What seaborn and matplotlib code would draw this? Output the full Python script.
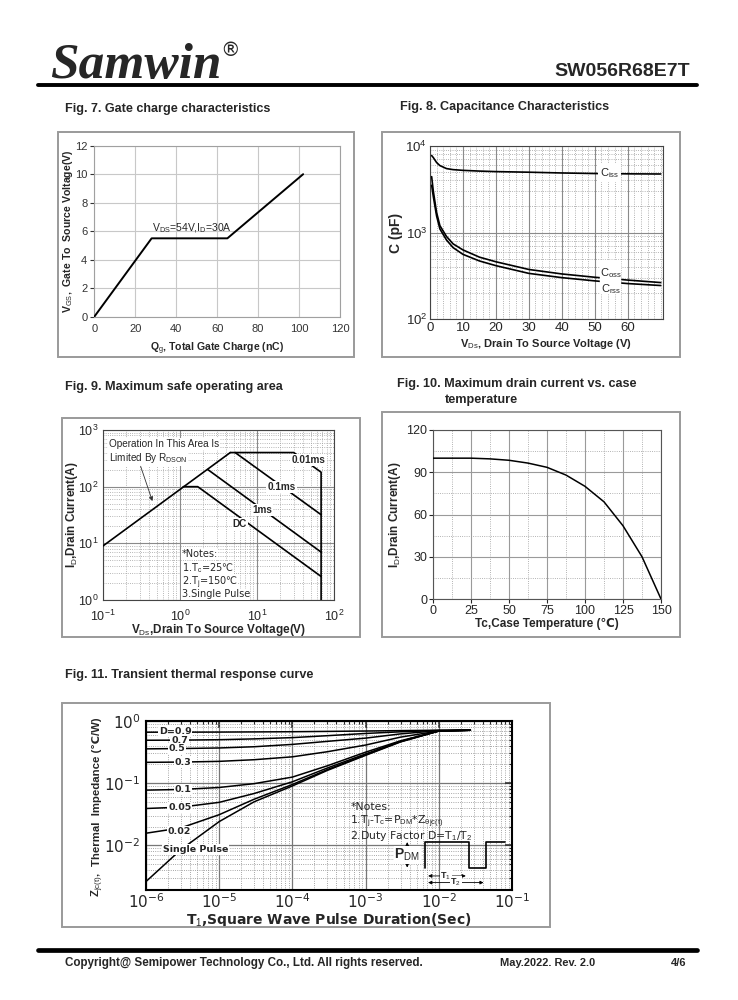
import numpy as np
import pandas as pd
import matplotlib
matplotlib.use("Agg")
import matplotlib.pyplot as plt
import seaborn as sns
from matplotlib.ticker import MultipleLocator, LogLocator, NullFormatter, FixedLocator
from matplotlib.patches import Rectangle
from matplotlib.lines import Line2D

# ---------------- data ----------------
# Fig 7 gate charge
qg_nc = [0, 28, 65, 102]
vgs_v = [0, 5.5, 5.5, 10]

# Fig 8 capacitance
vds_cap = [0.5, 1, 2, 3, 5, 7, 10, 15, 20, 30, 40, 50, 60, 70]
ciss_pf = [7700, 7300, 6400, 5900, 5450, 5300, 5200, 5100, 5030, 4950, 4850, 4780, 4740, 4720]
coss_pf = [4400, 3000, 1700, 1200, 900, 740, 630, 520, 460, 375, 333, 305, 283, 265]
crss_pf = [3500, 2600, 1550, 1100, 820, 670, 560, 470, 415, 338, 302, 277, 258, 245]

# Fig 9 safe operating area
rds_v = [0.1, 4.5]
rds_i = [9, 400]
t001_v = [4.5, 30, 68, 68]
t001_i = [400, 400, 180, 1]
t01_v = [5.2, 68]
t01_i = [400, 32]
t1_v = [2.3, 68]
t1_i = [200, 7]
dc_v = [1.1, 1.7, 68]
dc_i = [100, 100, 2.6]

# Fig 10 drain current vs case temperature
tc_c = [0, 12.5, 25, 37.5, 50, 62.5, 75, 87.5, 100, 112.5, 125, 137.5, 150]
id_a = [100, 100, 100, 99.5, 98.5, 96.5, 93.5, 88, 80, 69, 52, 30, 0]

# Fig 11 transient thermal response
t_sec = [1e-6, 3e-6, 1e-5, 3e-5, 1e-4, 3e-4, 1e-3, 3e-3, 1e-2, 2.7e-2]
z_single = [0.0026, 0.0085, 0.024, 0.05, 0.09, 0.16, 0.28, 0.46, 0.69, 0.71]
z_d002 = [0.0156, 0.019, 0.031, 0.055, 0.095, 0.165, 0.285, 0.465, 0.69, 0.71]
z_d005 = [0.039, 0.041, 0.049, 0.068, 0.105, 0.175, 0.295, 0.47, 0.69, 0.71]
z_d01 = [0.077, 0.079, 0.085, 0.098, 0.125, 0.19, 0.315, 0.48, 0.69, 0.71]
z_d03 = [0.216, 0.218, 0.224, 0.238, 0.265, 0.32, 0.41, 0.55, 0.69, 0.71]
z_d05 = [0.356, 0.36, 0.368, 0.385, 0.42, 0.47, 0.53, 0.62, 0.70, 0.71]
z_d07 = [0.49, 0.492, 0.50, 0.515, 0.54, 0.58, 0.63, 0.67, 0.705, 0.71]
z_d09 = [0.66, 0.661, 0.663, 0.667, 0.672, 0.68, 0.69, 0.70, 0.71, 0.71]
duty_labels = ["D=0.9", "0.7", "0.5", "0.3", "0.1", "0.05", "0.02"]
duty_label_t = [2.5e-6, 2.9e-6, 2.65e-6, 3.2e-6, 3.2e-6, 2.9e-6, 2.85e-6]
duty_label_z = [0.69, 0.49, 0.357, 0.217, 0.078, 0.040, 0.0165]
pulse_t = [6.55e-3, 6.55e-3, 0.0255, 0.0255, 0.0446, 0.0446, 0.081]
pulse_z = [0.00437, 0.0112, 0.0112, 0.00437, 0.00437, 0.0112, 0.0112]

# ---------------- style ----------------
sns.set_style("white")
plt.rcParams["font.family"] = ["Liberation Sans", "DejaVu Sans"]
plt.rcParams["mathtext.fontset"] = "custom"
plt.rcParams["mathtext.rm"] = "Liberation Sans"
plt.rcParams["mathtext.bf"] = "Liberation Sans:bold"
plt.rcParams["mathtext.it"] = "Liberation Sans:italic"

W, H = 738, 1000
fig = plt.figure(figsize=(7.38, 10), dpi=100)
fig.patch.set_facecolor("white")


def ax_px(l, t, r, b):
    return fig.add_axes([l / W, 1 - b / H, (r - l) / W, (b - t) / H])


def frame_px(l, t, r, b):
    fig.add_artist(Rectangle((l / W, 1 - b / H), (r - l) / W, (b - t) / H,
                             transform=fig.transFigure, fill=False,
                             edgecolor="#9a9a9a", lw=1.4))


def hline_px(y, x0, x1, lw):
    fig.add_artist(Line2D([x0 / W, x1 / W], [1 - y / H, 1 - y / H],
                          transform=fig.transFigure, color="black", lw=lw))


def ftext(x, y, s, **kw):
    fig.text(x / W, 1 - y / H, s, **kw)


def line(ax, x, y, lw=1.2, color="black", z=4):
    sns.lineplot(x=x, y=y, ax=ax, color=color, lw=lw, sort=False,
                 estimator=None, legend=False, zorder=z)


def place_labels(ax, ylab_right_px, xlab_top_px, l, t, r, b):
    if ylab_right_px is not None:
        ax.yaxis.set_label_coords((ylab_right_px - l) / (r - l), 0.5)
    ax.xaxis.set_label_coords(0.5, -(xlab_top_px - b) / (b - t))


# ---------------- header / footer ----------------
ftext(50, 78, "Samwin", family="Liberation Serif", weight="bold", style="italic",
      size=37, va="baseline")
ftext(220, 56, "®", family="DejaVu Sans", size=14, va="baseline")
ftext(690, 76, "SW056R68E7T", weight="bold", size=14, ha="right", va="baseline")
hline_px(85, 38, 697, 2.8)
hline_px(950, 38, 697, 3.4)
ftext(65, 966, "Copyright@ Semipower Technology Co., Ltd. All rights reserved.",
      weight="bold", size=8.4, va="baseline")
ftext(500, 966, "May.2022. Rev. 2.0", weight="bold", size=7.9, va="baseline")
ftext(686, 966, "4/6", weight="bold", size=8, va="baseline", ha="right")

# ---------------- titles ----------------
tk = dict(weight="bold", size=9.1, va="baseline")
ftext(65, 112, "Fig. 7. Gate charge characteristics", **tk)
ftext(400, 110, "Fig. 8. Capacitance Characteristics", **tk)
ftext(65, 390, "Fig. 9. Maximum safe operating area", **tk)
ftext(397, 387, "Fig. 10. Maximum drain current vs. case", **tk)
ftext(445, 403, "temperature", **tk)
ftext(65, 678, "Fig. 11. Transient thermal response curve", **tk)

frame_px(58, 132, 354, 357)
frame_px(382, 132, 680, 357)
frame_px(62, 418, 360, 637)
frame_px(382, 412, 680, 637)
frame_px(62, 703, 550, 927)

# ---------------- Fig 7 ----------------
b7 = (94.3, 145.7, 340, 316.7)
ax7 = ax_px(*b7)
line(ax7, qg_nc, vgs_v, lw=1.4)
ax7.set_xlim(0, 120)
ax7.set_ylim(0, 12)
ax7.xaxis.set_major_locator(MultipleLocator(20))
ax7.yaxis.set_major_locator(MultipleLocator(2))
ax7.grid(True, color="#c8c8c8", lw=0.8)
for s in ax7.spines.values():
    s.set_color("#a0a0a0")
ax7.tick_params(labelsize=8, colors="#333333", length=3, left=True, bottom=False, pad=2)
ax7.set_ylabel(r"V$_{\mathrm{GS}}$,  Gate To  Source Voltage(V)", fontsize=7.6, weight="bold")
ax7.set_xlabel(r"Q$_{\mathrm{g}}$, Total Gate Charge (nC)", fontsize=7.6, weight="bold")
place_labels(ax7, 75, 341, *b7)
ax7.text(28, 6.2, r"V$_{\mathrm{DS}}$=54V,I$_{\mathrm{D}}$=30A", fontsize=7.5,
         va="center", ha="left")

# ---------------- Fig 8 ----------------
b8 = (430, 145.7, 662.7, 319.3)
ax8 = ax_px(*b8)
line(ax8, vds_cap, ciss_pf)
line(ax8, vds_cap, coss_pf)
line(ax8, vds_cap, crss_pf)
ax8.set_yscale("log")
ax8.set_xlim(0, 70.6)
ax8.set_ylim(100, 10000)
ax8.xaxis.set_major_locator(FixedLocator([0, 10, 20, 30, 40, 50, 60]))
ax8.xaxis.set_minor_locator(MultipleLocator(2))
ax8.yaxis.set_major_locator(LogLocator(base=10, numticks=10))
ax8.yaxis.set_minor_locator(LogLocator(base=10, subs=np.arange(2, 10), numticks=20))
ax8.yaxis.set_minor_formatter(NullFormatter())
ax8.grid(True, which="major", color="#8a8a8a", lw=0.8)
ax8.grid(True, which="minor", color="#9a9a9a", lw=0.6, ls=":")
for s in ax8.spines.values():
    s.set_color("#444444")
ax8.tick_params(which="both", labelsize=9.5, length=2, direction="in", pad=2)
ax8.axvspan(51.5, 57.5, ymin=0.15, ymax=0.34, color="white", zorder=5)
ax8.text(54.5, 4850, r"C$_{\mathrm{iss}}$", fontsize=8, ha="center", va="center", zorder=6,
         bbox=dict(boxstyle="square,pad=0.15", fc="white", ec="none"))
ax8.text(54.8, 345, r"C$_{\mathrm{oss}}$", fontsize=8, ha="center", va="center", zorder=6)
ax8.text(54.8, 222, r"C$_{\mathrm{rss}}$", fontsize=8, ha="center", va="center", zorder=6)
ax8.set_ylabel("C (pF)", fontsize=10, weight="bold")
ax8.set_xlabel(r"V$_{\mathrm{Ds}}$, Drain To Source Voltage (V)", fontsize=8, weight="bold")
place_labels(ax8, 403, 337, *b8)

# ---------------- Fig 9 ----------------
b9 = (103, 430, 334, 600)
ax9 = ax_px(*b9)
for xs, ys in [(rds_v, rds_i), (t001_v, t001_i), (t01_v, t01_i), (t1_v, t1_i), (dc_v, dc_i)]:
    line(ax9, xs, ys, lw=1.2)
ax9.set_xscale("log")
ax9.set_yscale("log")
ax9.set_xlim(0.1, 100)
ax9.set_ylim(1, 1000)
for axis in (ax9.xaxis, ax9.yaxis):
    axis.set_major_locator(LogLocator(base=10, numticks=10))
    axis.set_minor_locator(LogLocator(base=10, subs=np.arange(2, 10), numticks=20))
    axis.set_minor_formatter(NullFormatter())
ax9.grid(True, which="major", color="#8a8a8a", lw=0.8)
ax9.grid(True, which="minor", color="#a0a0a0", lw=0.6, ls=":")
for s in ax9.spines.values():
    s.set_color("#444444")
ax9.tick_params(which="both", labelsize=9, length=2, direction="in", pad=3)
ax9.tick_params(axis="x", which="major", pad=6)
lab9 = dict(fontsize=7.2, weight="bold", ha="center", va="center", zorder=6,
            bbox=dict(boxstyle="square,pad=0.1", fc="white", ec="none"))
ax9.text(47, 294, "0.01ms", **lab9)
ax9.text(20.8, 100, "0.1ms", **lab9)
ax9.text(11.6, 38, "1ms", **lab9)
ax9.text(6.0, 22, "DC", **lab9)
ax9.text(0.118, 560, "Operation In This Area Is", fontsize=7.2, ha="left", va="center",
         zorder=6, bbox=dict(boxstyle="square,pad=0.1", fc="white", ec="none"))
ax9.text(0.118, 320, r"Limited By R$_{\mathrm{DSON}}$", fontsize=7.2, ha="left", va="center",
         zorder=6, bbox=dict(boxstyle="square,pad=0.1", fc="white", ec="none"))
ax9.annotate("", xy=(0.45, 50), xytext=(0.3, 255),
             arrowprops=dict(arrowstyle="-|>", lw=0.6, color="#333333",
                             mutation_scale=6), zorder=6)
notes9 = ["*Notes:", "1.T$_{\\mathrm{c}}$=25℃", "2.T$_{\\mathrm{j}}$=150℃", "3.Single Pulse"]
notes9_y = [6.4, 3.6, 2.05, 1.27]
for s, y in zip(notes9, notes9_y):
    ax9.text(1.05, y, s, fontsize=7, family="DejaVu Sans", ha="left", va="center", zorder=6,
             bbox=dict(boxstyle="square,pad=0.05", fc="white", ec="none"))
ax9.set_ylabel(r"I$_{\mathrm{D}}$,Drain Current(A)", fontsize=8.5, weight="bold")
ax9.set_xlabel(r"V$_{\mathrm{Ds}}$,Drain To Source Voltage(V)", fontsize=8.5, weight="bold")
place_labels(ax9, 80, 622, *b9)

# ---------------- Fig 10 ----------------
b10 = (433, 430, 661, 599)
ax10 = ax_px(*b10)
line(ax10, tc_c, id_a, lw=1.1)
ax10.set_xlim(0, 150)
ax10.set_ylim(0, 120)
ax10.xaxis.set_major_locator(MultipleLocator(25))
ax10.xaxis.set_minor_locator(MultipleLocator(12.5))
ax10.yaxis.set_major_locator(MultipleLocator(30))
ax10.yaxis.set_minor_locator(MultipleLocator(15))
ax10.grid(True, which="major", color="#9a9a9a", lw=0.8)
ax10.grid(True, which="minor", color="#9a9a9a", lw=0.6, ls=":")
for s in ax10.spines.values():
    s.set_color("#555555")
ax10.tick_params(which="major", labelsize=9, length=3, left=True, bottom=True, pad=1)
ax10.tick_params(which="minor", length=0)
ax10.set_ylabel(r"I$_{\mathrm{D}}$,Drain Current(A)", fontsize=8.5, weight="bold")
ax10.set_xlabel("Tc,Case Temperature (℃)", fontsize=8.5, weight="bold")
place_labels(ax10, 403, 618, *b10)

# ---------------- Fig 11 ----------------
b11 = (146, 721, 512, 890)
ax11 = ax_px(*b11)
for zs in [z_d09, z_d07, z_d05, z_d03, z_d01, z_d005, z_d002, z_single]:
    line(ax11, t_sec, zs, lw=1.1)
ax11.set_xscale("log")
ax11.set_yscale("log")
ax11.set_xlim(1e-6, 1e-1)
ax11.set_ylim(1.9e-3, 1)
for axis in (ax11.xaxis, ax11.yaxis):
    axis.set_major_locator(LogLocator(base=10, numticks=10))
    axis.set_minor_locator(LogLocator(base=10, subs=np.arange(2, 10), numticks=20))
    axis.set_minor_formatter(NullFormatter())
ax11.grid(True, which="major", color="#777777", lw=0.9)
ax11.grid(True, which="minor", color="#8a8a8a", lw=0.6, ls=":")
for s in ax11.spines.values():
    s.set_color("black")
    s.set_linewidth(1.5)
ax11.tick_params(which="major", direction="in", length=5, width=1.1, top=True, right=True,
                 labelsize=11, pad=4)
ax11.tick_params(axis="x", which="major", pad=1.5)
ax11.tick_params(which="minor", direction="in", length=2.5, width=0.8, top=True, right=True)
for lbl in ax11.get_xticklabels() + ax11.get_yticklabels():
    lbl.set_family("DejaVu Sans")
for s, tx, zy in zip(duty_labels, duty_label_t, duty_label_z):
    ax11.text(tx, zy, s, fontsize=6.8, weight="bold", family="DejaVu Sans", ha="center",
              va="center", zorder=6,
              bbox=dict(boxstyle="square,pad=0.1", fc="white", ec="none"))
ax11.text(1.7e-6, 0.0084, "Single Pulse", fontsize=6.8, weight="bold", family="DejaVu Sans",
          ha="left", va="center", zorder=6,
          bbox=dict(boxstyle="square,pad=0.1", fc="white", ec="none"))
notes11 = ["*Notes:", "1.T$_{\\mathrm{j}}$-T$_{\\mathrm{c}}$=P$_{\\mathrm{DM}}$*Z$_{\\mathrm{θjc(t)}}$",
           "2.Duty Factor D=T$_{\\mathrm{1}}$/T$_{\\mathrm{2}}$"]
notes11_z = [0.0405, 0.0237, 0.0139]
for s, zy in zip(notes11, notes11_z):
    ax11.text(6.2e-4, zy, s, fontsize=7.8, family="DejaVu Sans", ha="left", va="center",
              zorder=6)
line(ax11, pulse_t, pulse_z, lw=1.2)
ax11.text(3.7e-3, 0.0069, r"P$_{\mathrm{DM}}$", fontsize=10, weight="bold", ha="center",
          va="center", zorder=6, bbox=dict(boxstyle="square,pad=0.05", fc="white", ec="none"))
ax11.annotate("", xy=(3.7e-3, 0.0112), xytext=(3.7e-3, 0.0092),
              arrowprops=dict(arrowstyle="-|>", lw=0.6, color="black", mutation_scale=5))
ax11.annotate("", xy=(3.7e-3, 0.00437), xytext=(3.7e-3, 0.0053),
              arrowprops=dict(arrowstyle="-|>", lw=0.6, color="black", mutation_scale=5))
ax11.annotate("", xy=(6.55e-3, 0.0032), xytext=(0.0255, 0.0032),
              arrowprops=dict(arrowstyle="<|-|>", lw=0.6, color="black", mutation_scale=5))
ax11.annotate("", xy=(6.55e-3, 0.0025), xytext=(0.0446, 0.0025),
              arrowprops=dict(arrowstyle="<|-|>", lw=0.6, color="black", mutation_scale=5))
ax11.text(0.0125, 0.0032, r"T$_{\mathrm{1}}$", fontsize=6.5, weight="bold", ha="center",
          va="center", zorder=6, bbox=dict(boxstyle="square,pad=0.05", fc="white", ec="none"))
ax11.text(0.017, 0.0025, r"T$_{\mathrm{2}}$", fontsize=6.5, weight="bold", ha="center",
          va="center", zorder=6, bbox=dict(boxstyle="square,pad=0.05", fc="white", ec="none"))
# y label of Fig 11 in two pieces (subscripted symbol + plain text so ℃ can fall back)
ftext(100, 897, r"Z$_{\mathrm{jc(t)}}$,", weight="bold", size=8.2, rotation=90,
      rotation_mode="anchor", ha="left", va="baseline")
ftext(100, 717, "Thermal  Impedance (℃/W)", weight="bold", size=8.2, rotation=90,
      rotation_mode="anchor", ha="right", va="baseline")
ax11.set_xlabel(r"T$_{\mathrm{1}}$,Square Wave Pulse Duration(Sec)", fontsize=10,
                weight="bold", family="DejaVu Sans")
place_labels(ax11, None, 911, *b11)

fig.savefig("out.png", dpi=100, facecolor="white")
